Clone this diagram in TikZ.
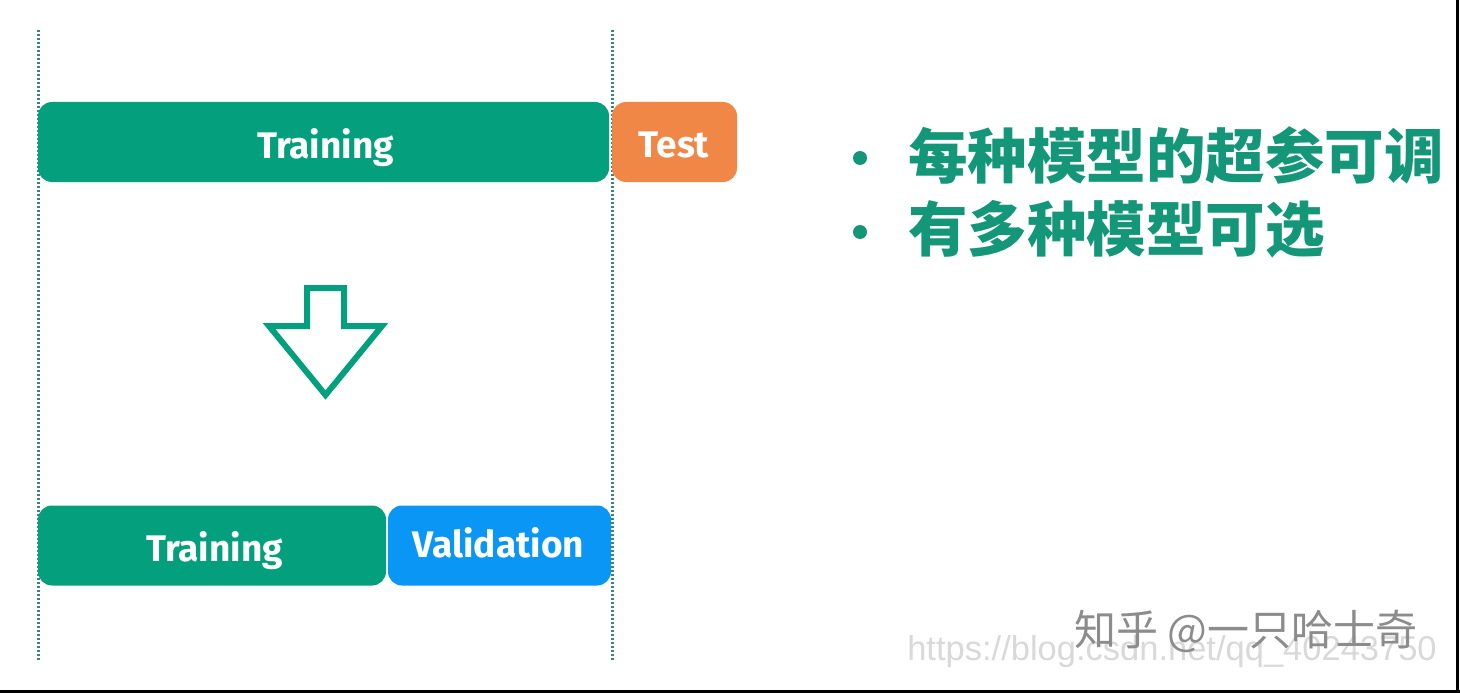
\documentclass[tikz,border=0pt]{standalone}
\usepackage{fontspec}
\setmainfont{Fira Sans}
\newfontfamily\cjk{Noto Sans CJK SC}
\newfontfamily\wmfont{Liberation Sans}
\definecolor{tealg}{RGB}{4,160,126}
\definecolor{cjkg}{RGB}{20,150,120}
\definecolor{orng}{RGB}{240,135,70}
\definecolor{blu}{RGB}{10,150,245}
\definecolor{dotc}{RGB}{60,130,130}
\tikzset{
  bar/.style={rounded corners=14pt, inner sep=0pt, minimum height=80pt},
  bartext/.style={text=white, inner sep=0pt, font=\fontsize{37}{42}\selectfont\bfseries},
  guide/.style={dotc, line width=3pt, dash pattern=on 2pt off 2pt},
  bigarrow/.style={draw=tealg, line width=6pt, line join=miter, fill=white},
  bullet/.style={circle, fill=cjkg, minimum size=14pt, inner sep=0pt},
  point/.style={anchor=west, inner sep=0pt, text=cjkg, font=\cjk\bfseries\fontsize{59.5}{66}\selectfont},
  frame/.style={black, line width=3pt}
}
\begin{document}
\begin{tikzpicture}[x=1pt,y=-1pt]
\useasboundingbox (0,0) rectangle (1460,693);
\fill[white] (0,0) rectangle (1460,693);
% guides
\coordinate (g1t) at (38,30); \coordinate (g1b) at (38,660);
\coordinate (g2t) at (612,30); \coordinate (g2b) at (612,660);
\draw[guide] (g1t) -- (g1b);
\draw[guide] (g2t) -- (g2b);
% top row
\node[bar, fill=tealg, minimum width=571pt] (train1) at (323.5,142) {};
\node[bartext] at (325.5,148) {Training};
\node[bar, fill=orng, minimum width=125pt] (test) at (674.5,142) {};
\node[bartext] at (674,145) {Test};
% arrow
\draw[bigarrow] (307,288) -- (344,288) -- (344,326) -- (382,326) -- (325.5,395) -- (269,326) -- (307,326) -- cycle;
% bottom row
\node[bar, fill=tealg, minimum width=348pt] (train2) at (212,545.5) {};
\node[bartext] at (214.5,551) {Training};
\node[bar, fill=blu, minimum width=223pt] (val) at (499.5,545.5) {};
\node[bartext] at (498.5,543) {Validation};
% bullets
\node[bullet] (b1) at (860,158) {};
\node[bullet] (b2) at (860,232) {};
\node[point] (t1) at (908,155) {每种模型的超参可调};
\node[point] (t2) at (908,229) {有多种模型可选};
% watermarks
\node[text=black!15, font=\wmfont\fontsize{34.5}{40}\selectfont, inner sep=0pt] (wm2) at (1172,652) {https://blog.csdn.net/qq\_40243750};
\node[text=black!45, font=\cjk\fontsize{42}{48}\selectfont, inner sep=0pt] (wm1) at (1246,631) {知乎 @一只哈士奇};
% frame
\draw[frame] (1457.5,0) -- (1457.5,693);
\draw[frame] (0,691.5) -- (1460,691.5);
\end{tikzpicture}
\end{document}
